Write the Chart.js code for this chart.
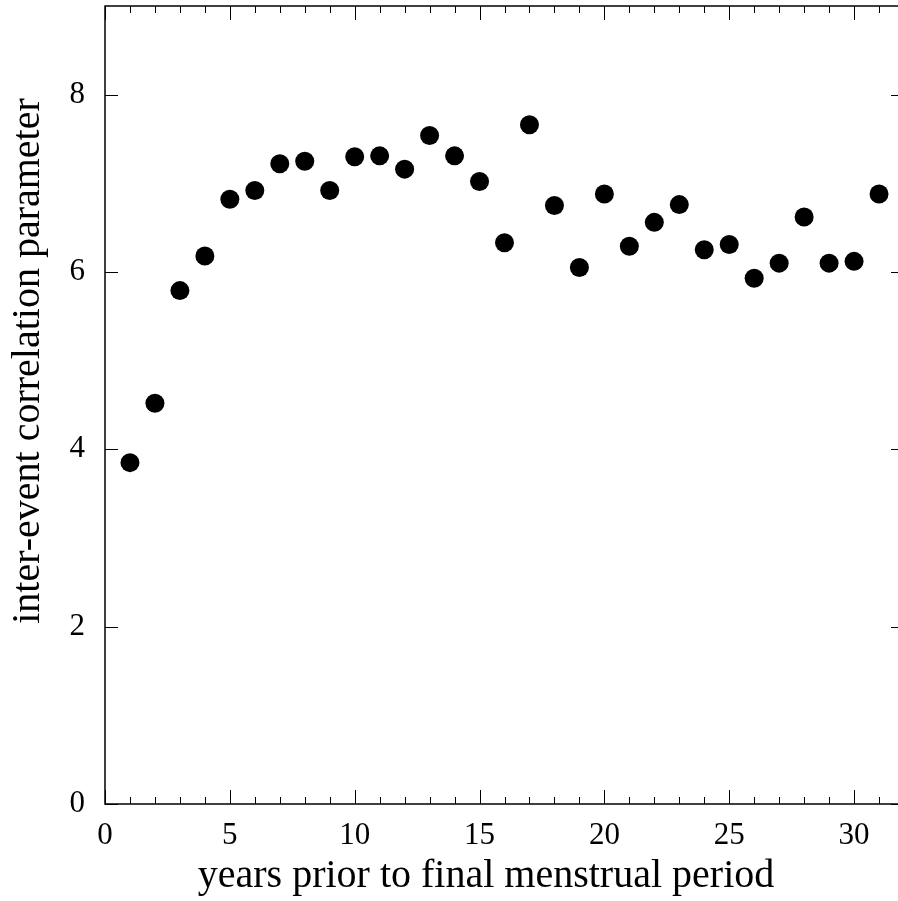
<!DOCTYPE html>
<html>
<head>
<meta charset="utf-8">
<script src="https://cdn.jsdelivr.net/npm/chart.js@4"></script>
<style>
    html, body { margin: 0; padding: 0; background: #fff; overflow: hidden; }
    #wrap { width: 905px; height: 901px; }
</style>
</head>
<body>
<div id="wrap"><canvas id="chart" width="905" height="901"></canvas></div>
<script>
// Data
const years = [1, 2, 3, 4, 5, 6, 7, 8, 9, 10, 11, 12, 13, 14, 15, 16,
    17, 18, 19, 20, 21, 22, 23, 24, 25, 26, 27, 28, 29, 30, 31];
const correlation = [3.85, 4.52, 5.79, 6.18, 6.82, 6.92, 7.22, 7.25, 6.92, 7.30, 7.31,
    7.16, 7.54, 7.31, 7.02, 6.33, 7.66, 6.75, 6.05, 6.88, 6.29, 6.56, 6.76,
    6.25, 6.31, 5.93, 6.10, 6.62, 6.10, 6.12, 6.88];

// Axis ticks
const xTicks = [0, 5, 10, 15, 20, 25, 30];
const xMinorTicks = [1, 2, 3, 4, 6, 7, 8, 9, 11, 12, 13, 14, 16, 17, 18, 19,
    21, 22, 23, 24, 26, 27, 28, 29, 31];
const yTicks = [0, 2, 4, 6, 8];

const xTitle = 'years prior to final menstrual period';
const yTitle = 'inter-event correlation parameter';

const serif = '"Liberation Serif", "Times New Roman", serif';

// Frame, inward ticks and axis titles (gnuplot style)
const framePlugin = {
    id: 'frame',
    beforeDatasetsDraw(chart) {
        const { ctx, chartArea: a, scales } = chart;
        const x = scales.x, y = scales.y;
        ctx.save();
        ctx.strokeStyle = '#000';
        ctx.lineWidth = 1;
        ctx.beginPath();
        xTicks.forEach(v => {
            const px = Math.round(x.getPixelForValue(v)) + 0.5;
            ctx.moveTo(px, a.bottom); ctx.lineTo(px, a.bottom - 14);
            ctx.moveTo(px, a.top); ctx.lineTo(px, a.top + 14);
        });
        xMinorTicks.forEach(v => {
            const px = Math.round(x.getPixelForValue(v)) + 0.5;
            ctx.moveTo(px, a.bottom); ctx.lineTo(px, a.bottom - 7);
            ctx.moveTo(px, a.top); ctx.lineTo(px, a.top + 7);
        });
        yTicks.forEach(v => {
            const py = Math.round(y.getPixelForValue(v)) + 0.5;
            ctx.moveTo(a.left, py); ctx.lineTo(a.left + 13, py);
            ctx.moveTo(a.right, py); ctx.lineTo(a.right - 13, py);
        });
        ctx.stroke();

        ctx.lineWidth = 1.5;
        ctx.strokeRect(a.left, a.top, a.right - a.left, a.bottom - a.top);

        ctx.fillStyle = '#000';
        ctx.font = '40px ' + serif;
        ctx.textAlign = 'center';
        ctx.textBaseline = 'alphabetic';
        ctx.fillText(xTitle, 486, 887);

        ctx.translate(39, 361);
        ctx.rotate(-Math.PI / 2);
        ctx.fillText(yTitle, 0, 0);
        ctx.restore();
    }
};

const ctx = document.getElementById('chart').getContext('2d');
new Chart(ctx, {
    type: 'scatter',
    data: {
        datasets: [{
            data: years.map((yr, i) => ({ x: yr, y: correlation[i] })),
            backgroundColor: '#000',
            borderColor: '#000',
            pointRadius: 9.5,
            pointHoverRadius: 9.5,
            borderWidth: 0
        }]
    },
    options: {
        responsive: false,
        animation: false,
        devicePixelRatio: 1,
        layout: { autoPadding: false, padding: { top: 6, right: 1, left: 0, bottom: 0 } },
        plugins: {
            legend: { display: false },
            tooltip: { enabled: false }
        },
        scales: {
            x: {
                type: 'linear',
                min: 0,
                max: 32,
                grid: { display: false, drawTicks: false },
                border: { display: false },
                afterBuildTicks: scale => {
                    scale.ticks = xTicks.map(v => ({ value: v }));
                },
                afterFit: scale => {
                    scale.height = 97;
                    scale.paddingLeft = 0;
                    scale.paddingRight = 0;
                },
                ticks: {
                    padding: 13,
                    maxRotation: 0,
                    color: '#000',
                    font: { family: serif, size: 31 }
                }
            },
            y: {
                type: 'linear',
                min: 0,
                max: 9,
                grid: { display: false, drawTicks: false },
                border: { display: false },
                afterBuildTicks: scale => {
                    scale.ticks = yTicks.map(v => ({ value: v }));
                },
                afterFit: scale => {
                    scale.width = 105;
                    scale.paddingTop = 0;
                    scale.paddingBottom = 0;
                },
                ticks: {
                    padding: 20,
                    color: '#000',
                    font: { family: serif, size: 31 }
                }
            }
        }
    },
    plugins: [framePlugin]
});
</script>
</body>
</html>
